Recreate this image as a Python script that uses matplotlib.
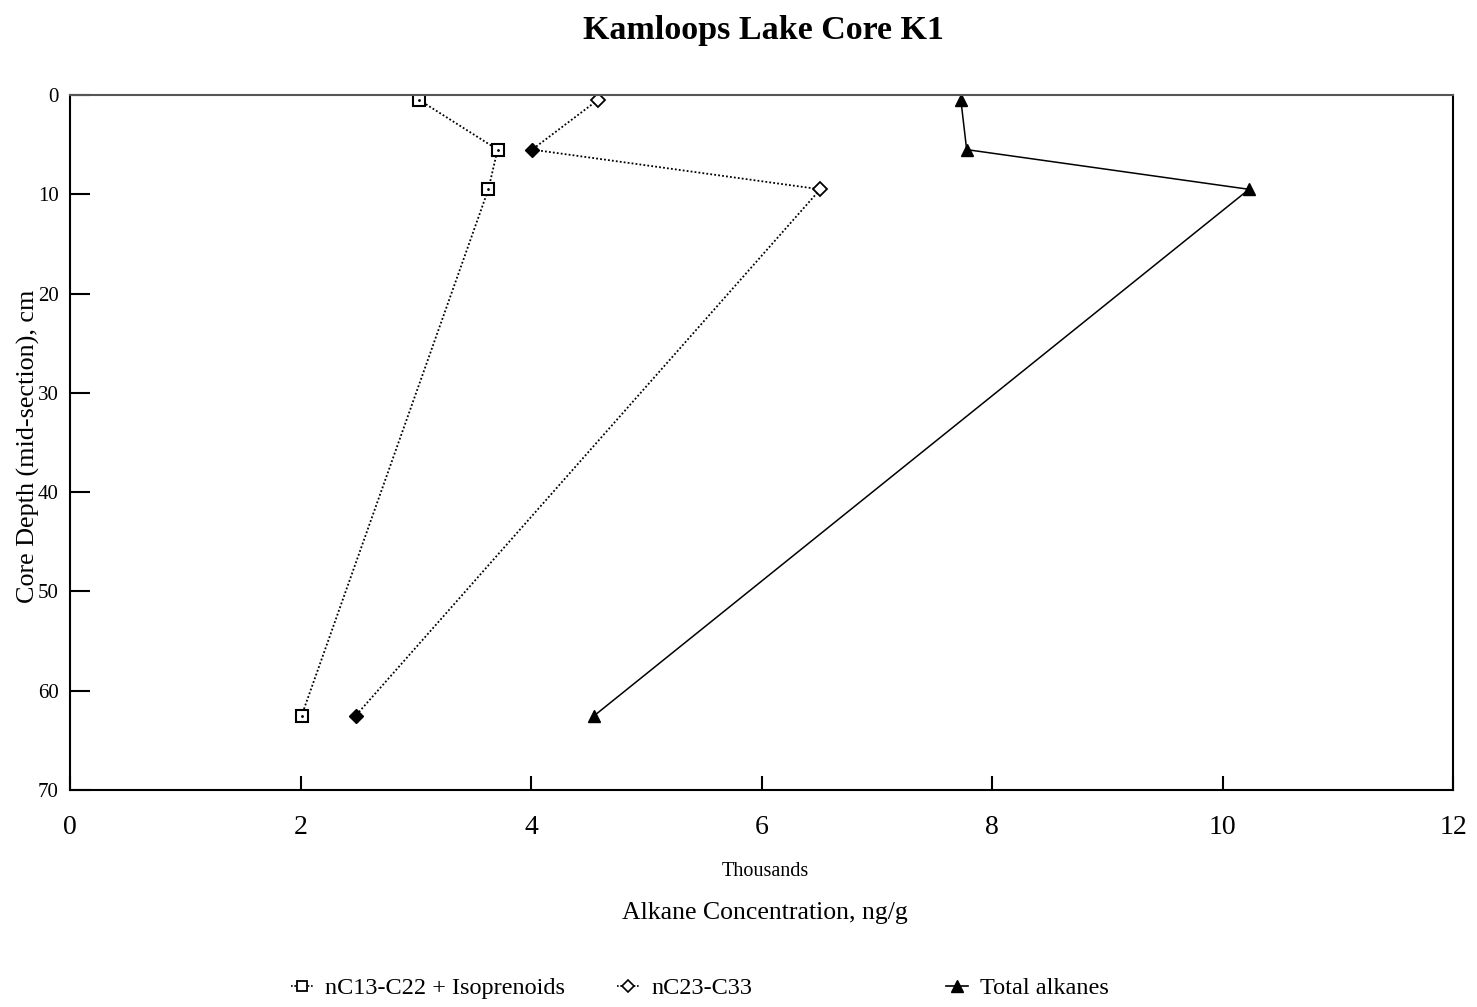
#! /usr/bin/env python3
# Kamloops Lake core K1 - alkane profiles
import matplotlib
matplotlib.use("Agg")
import matplotlib.pyplot as plt
from matplotlib.lines import Line2D

#
# DATA
#
depth = [0.5, 5.5, 9.5, 62.5]
c13_c22 = [3.03, 3.71, 3.63, 2.01]
c23_c33 = [4.58, 4.01, 6.51, 2.48]
total = [7.73, 7.78, 10.23, 4.55]
labels = ["nC13-C22 + Isoprenoids", "nC23-C33", "Total alkanes"]
x_ticks = [0, 2, 4, 6, 8, 10, 12]
y_ticks = [0, 10, 20, 30, 40, 50, 60, 70]

plt.rcParams['font.family'] = ['Liberation Serif', 'DejaVu Serif']

fig = plt.figure(figsize=(14.77, 10.07), dpi=100)
ax = fig.add_axes([70 / 1477, 1 - 790 / 1007, 1383 / 1477, 695 / 1007])

dots = (0, (1, 1.2))
# nC13-C22 + isoprenoids: open squares with a dot
ax.plot(c13_c22, depth, color='black', ls=dots, lw=1.3,
        marker='s', ms=8, mfc='white', mec='black', mew=1.5)
ax.plot(c13_c22, depth, ls='none', marker='.', ms=2, color='black')
# nC23-C33: diamonds, some open some filled as on the original
ax.plot(c23_c33, depth, color='black', ls=dots, lw=1.3,
        marker='D', ms=7, mfc='white', mec='black', mew=1.3, markevery=[0, 2])
ax.plot(c23_c33, depth, ls='none', marker='D', ms=7, color='black', markevery=[1, 3])
# total
ax.plot(total, depth, color='black', ls='-', lw=1.1, marker='^', ms=9)

ax.set_xlim(0, 12)
ax.set_ylim(70, 0)
ax.set_xticks(x_ticks)
ax.set_yticks(y_ticks)
ax.tick_params(axis='x', direction='in', length=10, width=1.5, labelsize=20, pad=18)
ax.tick_params(axis='y', direction='in', length=14.5, width=1.5, labelsize=15, pad=8)
for sp in ax.spines.values():
    sp.set_linewidth(1.5)
ax.spines['top'].set_color('#555555')

fig.text(763 / 1477, 1 - 30 / 1007, "Kamloops Lake Core K1", ha='center', va='center',
         fontsize=24.5, fontweight='bold')
fig.text(765 / 1477, 1 - 872 / 1007, "Thousands", ha='center', va='center', fontsize=14.5)
fig.text(765 / 1477, 1 - 913 / 1007, "Alkane Concentration, ng/g", ha='center',
         va='center', fontsize=18.5)
fig.text(28 / 1477, 1 - 446 / 1007, "Core Depth (mid-section), cm", ha='center',
         va='center', rotation=90, fontsize=18.8)

handles = [
    Line2D([], [], color='black', ls=(0, (1, 1)), lw=1.2, marker='s', ms=7,
           mfc='white', mec='black', mew=1.3),
    Line2D([], [], color='black', ls=(0, (1, 1)), lw=1.2, marker='D', ms=6,
           mfc='white', mec='black', mew=1.2),
    Line2D([], [], color='black', ls='-', lw=1.2, marker='^', ms=8),
]
x_leg = [291, 617, 946]
for h, lab, xl in zip(handles, labels, x_leg):
    fig.legend([h], [lab], loc='center left', bbox_to_anchor=(xl / 1477, 1 - 988 / 1007),
               frameon=False, fontsize=17.5, handlelength=0.9, handletextpad=0.5,
               borderpad=0, borderaxespad=0)

fig.savefig("out.png", dpi=100)
